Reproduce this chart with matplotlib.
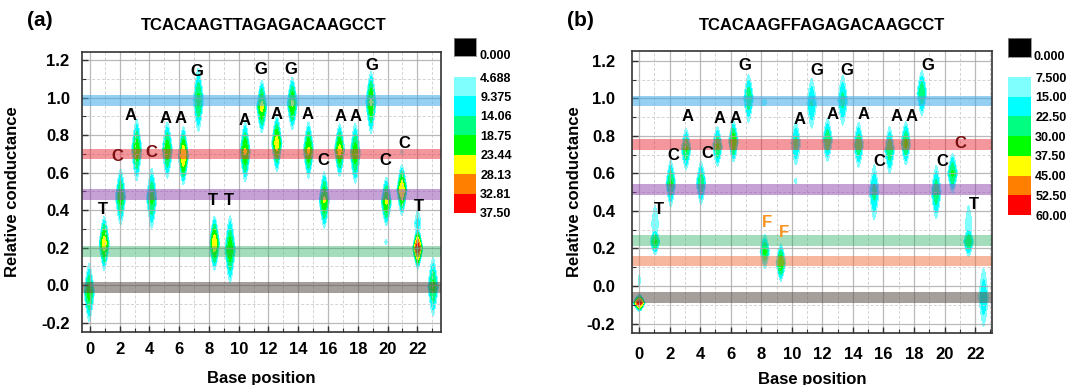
import numpy as np
import matplotlib
matplotlib.use("Agg")
import matplotlib.pyplot as plt
from matplotlib.ticker import MultipleLocator

plt.rcParams['font.family'] = ['Liberation Sans', 'DejaVu Sans']
plt.rcParams['font.weight'] = 'bold'

# ---------------- data ----------------
# panel (a): TCACAAGTTAGAGACAAGCCT
seq_a = "TCACAAGTTAGAGACAAGCCT"
xa = [-0.05, 0.96, 2.06, 3.14, 4.15, 5.2, 6.28, 7.29, 8.37, 9.42, 10.43, 11.55,
      12.56, 13.6, 14.69, 15.75, 16.78, 17.83, 18.89, 19.92, 20.97, 22.03, 23.06,
      22.03, 19.9, 20.97]
ya = [-0.04, 0.223, 0.47, 0.72, 0.463, 0.72, 0.69, 0.987, 0.223, 0.19, 0.711, 0.951,
      0.756, 0.969, 0.72, 0.454, 0.72, 0.703, 0.975, 0.445, 0.507, 0.196, -0.008,
      0.33, 0.23, 0.71]
amp_a = [21, 26, 21, 22, 20, 22, 28, 20, 27, 22, 24, 25,
         26, 24, 24, 24, 25, 22, 24, 24, 28, 36, 20,
         11, 6, 6]
half_a = [0.155, 0.145, 0.15, 0.165, 0.16, 0.15, 0.155, 0.17, 0.145, 0.18, 0.16, 0.14,
          0.15, 0.14, 0.15, 0.15, 0.14, 0.16, 0.165, 0.13, 0.135, 0.11, 0.155,
          0.07, 0.012, 0.012]
wid_a = [0.35] * 23 + [0.22, 0.1, 0.1]
levels_a = [4.688, 9.375, 14.06, 18.75, 23.44, 28.13, 32.81, 37.50]
ticklab_a = ["4.688", "9.375", "14.06", "18.75", "23.44", "28.13", "32.81", "37.50"]
lab_x_a = [0.9, 1.86, 2.76, 4.15, 5.05, 6.12, 7.18, 8.23, 9.33, 10.36, 11.5, 12.56,
           13.53, 14.62, 15.7, 16.87, 17.88, 18.95, 19.87, 21.13, 22.1]
lab_y_a = [0.404, 0.688, 0.903, 0.706, 0.886, 0.886, 1.138, 0.45, 0.45, 0.88, 1.147, 0.907,
           1.147, 0.907, 0.662, 0.898, 0.898, 1.173, 0.662, 0.756, 0.418]
band_y_a = [0.985, 0.70, 0.482, 0.178, -0.013]
band_c_a = ['#3fa9e8', '#e8303c', '#8e44ad', '#27ae60', '#5a504a']

# panel (b): TCACAAGFFAGAGACAAGCCT
seq_b = "TCACAAGFFAGAGACAAGCCT"
xb = [0.02, 1.05, 2.08, 3.08, 4.06, 5.13, 6.18, 7.17, 8.23, 9.28, 10.26, 11.3,
      12.34, 13.33, 14.37, 15.39, 16.4, 17.46, 18.51, 19.45, 20.52, 21.57, 22.55,
      1.05, 21.57, 8.2, 10.26, 0.02]
yb = [-0.09, 0.237, 0.546, 0.73, 0.548, 0.743, 0.77, 1.0, 0.184, 0.125, 0.76, 0.973,
      0.778, 0.99, 0.752, 0.5, 0.725, 0.76, 1.027, 0.5, 0.6, 0.237, -0.06,
      0.33, 0.33, 0.98, 0.56, 0.03]
amp_b = [56, 31, 31, 31, 29, 31, 37, 29, 32, 37, 25, 23,
         29, 25, 29, 25, 29, 32, 29, 29, 31, 29, 21,
         13, 13, 10, 9, 9]
half_b = [0.045, 0.07, 0.125, 0.11, 0.115, 0.106, 0.11, 0.128, 0.09, 0.1, 0.115, 0.133,
          0.115, 0.133, 0.12, 0.146, 0.124, 0.115, 0.12, 0.142, 0.106, 0.08, 0.155,
          0.1, 0.1, 0.02, 0.015, 0.03]
wid_b = [0.4] + [0.32] * 22 + [0.22, 0.22, 0.15, 0.08, 0.08]
levels_b = [7.5, 15, 22.5, 30, 37.5, 45, 52.5, 60]
ticklab_b = ["7.500", "15.00", "22.50", "30.00", "37.50", "45.00", "52.50", "60.00"]
lab_x_b = [1.33, 2.25, 3.16, 4.47, 5.3, 6.35, 6.94, 8.4, 9.5, 10.54, 11.64, 12.66,
           13.6, 14.69, 15.72, 16.87, 17.86, 18.88, 19.82, 21.02, 21.9]
lab_y_b = [0.406, 0.693, 0.903, 0.707, 0.89, 0.89, 1.173, 0.338, 0.285, 0.885, 1.15, 0.911,
           1.15, 0.911, 0.666, 0.902, 0.902, 1.177, 0.666, 0.757, 0.432]
band_y_b = [0.985, 0.755, 0.515, 0.242, 0.133, -0.061]
band_c_b = ['#3fa9e8', '#e8303c', '#8e44ad', '#27ae60', '#f07040', '#5a504a']

band_alpha = {'#3fa9e8': 0.55, '#e8303c': 0.5, '#8e44ad': 0.5, '#27ae60': 0.42,
              '#5a504a': 0.55, '#f07040': 0.5}
fill_colors = ['#80ffff', '#00ffff', '#00ff80', '#00ff00', '#ffff00', '#ff8000', '#ff0000']


def density(xs, ys, amps, halfs, wids, lev0, gx, gy):
    # diamond-like peaks with a flattened top
    X, Y = np.meshgrid(gx, gy)
    Z = np.zeros_like(X)
    for x0, y0, a, h, w in zip(xs, ys, amps, halfs, wids):
        r0 = (1 - lev0 / a) ** (1 / 1.6)
        hy = h / r0
        wx = w / r0 ** (1 / 1.5)
        r = np.abs(Y - y0) / hy + (np.abs(X - x0) / wx) ** 1.5
        f = a * (1 - np.clip(r, 0, 1) ** 1.6)
        Z = np.maximum(Z, f)
    return X, Y, Z


def letter_color(ch, y, panel):
    if ch == 'F':
        return '#f7931e'
    if ch == 'C' and ((panel == 'a' and 0.68 < y < 0.72) or (panel == 'b' and 0.74 < y < 0.78)):
        return '#7a1010'
    return 'black'


fig = plt.figure(figsize=(10.67, 3.85), dpi=100)

panels = [
    dict(name='a', rect=[0.0769, 0.1377, 0.3365, 0.7273], xlim=(-0.53, 23.6), ylim=(-0.25, 1.243),
         xs=xa, ys=ya, amps=amp_a, halfs=half_a, wids=wid_a, levels=levels_a, tl=ticklab_a, seq=seq_a,
         lx=lab_x_a, ly=lab_y_a, by=band_y_a, bc=band_c_a, title_x=264 / 1067, plab_x=40 / 1067,
         cb=[454, 77, 22, 136], blk=[454, 38, 22, 18], ylab_x=-0.173, xlab_y=-0.138, xpad=7, ypad=9),
    dict(name='b', rect=[0.5923, 0.1351, 0.3374, 0.7325], xlim=(-0.46, 23.1), ylim=(-0.25, 1.252),
         xs=xb, ys=yb, amps=amp_b, halfs=half_b, wids=wid_b, levels=levels_b, tl=ticklab_b, seq=seq_b,
         lx=lab_x_b, ly=lab_y_b, by=band_y_b, bc=band_c_b, title_x=822 / 1067, plab_x=580 / 1067,
         cb=[1008, 77, 23, 138], blk=[1008, 38, 23, 19], ylab_x=-0.14, xlab_y=-0.138, xpad=10, ypad=12),
]

W, H = 1067, 385
for p in panels:
    ax = fig.add_axes(p['rect'])
    gx = np.linspace(p['xlim'][0], p['xlim'][1], 1000)
    gy = np.linspace(p['ylim'][0], p['ylim'][1], 1000)
    X, Y, Z = density(p['xs'], p['ys'], p['amps'], p['halfs'], p['wids'], p['levels'][0], gx, gy)
    cs = ax.contourf(X, Y, Z, levels=p['levels'], colors=fill_colors, zorder=1)

    for yc, c in zip(p['by'], p['bc']):
        ax.axhspan(yc - 0.028, yc + 0.028, color=c, alpha=band_alpha[c], lw=0, zorder=3)

    for ch, lx, ly in zip(p['seq'], p['lx'], p['ly']):
        ax.text(lx, ly, ch, ha='center', va='center', fontsize=12, fontweight='bold',
                color=letter_color(ch, ly, p['name']), zorder=5)

    ax.set_xlim(*p['xlim'])
    ax.set_ylim(*p['ylim'])
    ax.xaxis.set_major_locator(MultipleLocator(2))
    ax.xaxis.set_minor_locator(MultipleLocator(1))
    ax.yaxis.set_minor_locator(MultipleLocator(0.1))
    ax.set_yticks([-0.2, 0.0, 0.2, 0.4, 0.6, 0.8, 1.0, 1.2])
    ax.set_yticklabels(["-0.2", "0.0", "0.2", "0.4", "0.6", "0.8", "1.0", "1.2"])
    ax.set_axisbelow(False)
    ax.grid(which='major', color='#a8a8a8', lw=0.9, ls='-', alpha=0.8, zorder=2)
    ax.grid(which='minor', color='#c8c8c8', lw=0.7, ls=(0, (3, 2)), alpha=0.8, zorder=2)
    ax.tick_params(which='both', direction='in', top=False, right=False, color='#333333')
    ax.tick_params(which='major', length=4, width=1, labelsize=12)
    ax.tick_params(which='minor', length=3, width=0.8)
    ax.tick_params(axis='x', pad=p['xpad'])
    ax.tick_params(axis='y', pad=p['ypad'])
    for lbl in ax.get_xticklabels() + ax.get_yticklabels():
        lbl.set_fontweight('bold')
    for s in ax.spines.values():
        s.set_color('#333333')
        s.set_linewidth(1.2)
        s.set_zorder(6)

    ax.set_xlabel("Base position", fontsize=12, fontweight='bold')
    ax.set_ylabel("Relative conductance", fontsize=12, fontweight='bold')
    ax.xaxis.set_label_coords(0.5, p['xlab_y'])
    ax.yaxis.set_label_coords(p['ylab_x'], 0.5)

    fig.text(p['title_x'], 1 - 25 / H, p['seq'], ha='center', va='center', fontsize=12, fontweight='bold')
    fig.text(p['plab_x'], 1 - 21 / H, "(%s)" % p['name'], ha='center', va='center', fontsize=15, fontweight='bold')

    # colour scale
    cx, cy, cw, ch_ = p['cb']
    cax = fig.add_axes([cx / W, 1 - (cy + ch_) / H, cw / W, ch_ / H])
    cb = fig.colorbar(cs, cax=cax)
    cb.outline.set_visible(False)
    cax.invert_yaxis()
    cb.set_ticks(p['levels'])
    cb.set_ticklabels(p['tl'])
    cax.tick_params(length=0, pad=3, labelsize=9)
    for lbl in cax.get_yticklabels():
        lbl.set_fontweight('bold')

    bx, byy, bw, bh = p['blk']
    bax = fig.add_axes([bx / W, 1 - (byy + bh) / H, bw / W, bh / H])
    bax.set_facecolor('black')
    bax.set_xticks([])
    bax.set_yticks([])
    for s in bax.spines.values():
        s.set_color('#888888')
        s.set_linewidth(0.6)
    bax.text(1.0 + 3 / bw, 0.0, "0.000", transform=bax.transAxes, ha='left', va='center',
             fontsize=9, fontweight='bold')

fig.savefig("out.png", dpi=100)
